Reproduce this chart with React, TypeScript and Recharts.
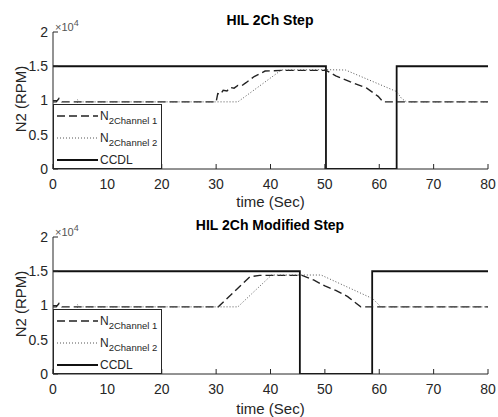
import { LineChart, Line, XAxis, YAxis, Legend } from "recharts";

const xTicks = [0, 10, 20, 30, 40, 50, 60, 70, 80];
const yTicks = [0, 5000, 10000, 15000, 20000];

// HIL 2Ch Step
const stepCh1Time = [0, 0.6, 1.1, 1.6, 30, 30.3, 30.8, 31.3, 32, 32.6, 33.3, 34, 34.7, 35.5, 37, 39, 42, 50.2, 52, 54.6, 57.7, 59.8, 60.7, 80];
const stepCh1Rpm = [9800, 9800, 10300, 9800, 9800, 11000, 10900, 11500, 11400, 11900, 11800, 12200, 12150, 12600, 13500, 14300, 14400, 14400, 13600, 12750, 11800, 10600, 9800, 9800];
const stepCh2Time = [0, 4.4, 4.5, 4.9, 34, 42, 50.2, 53.8, 63.2, 64.1, 65, 80];
const stepCh2Rpm = [0, 0, 10100, 9800, 9800, 14450, 14500, 14450, 11300, 10300, 9800, 9800];
const stepCcdlTime = [0, 50.2, 50.2, 63.2, 63.2, 80];
const stepCcdlRpm = [15000, 15000, 0, 0, 15000, 15000];

// HIL 2Ch Modified Step
const modCh1Time = [0, 0.6, 1.1, 1.6, 30.4, 36.2, 38, 45.8, 48, 50, 52, 54.2, 56.6, 80];
const modCh1Rpm = [9800, 9800, 10300, 9800, 9800, 14200, 14400, 14400, 13700, 12850, 12200, 11300, 9800, 9800];
const modCh2Time = [0, 4.4, 4.5, 4.9, 34, 40.2, 49.3, 58.8, 60.3, 80];
const modCh2Rpm = [0, 0, 10100, 9800, 9800, 14450, 14450, 11000, 9800, 9800];
const modCcdlTime = [0, 45.4, 45.4, 58.7, 58.7, 80];
const modCcdlRpm = [15000, 15000, 0, 0, 15000, 15000];

const zip = (t: number[], v: number[]) => t.map((x, i) => ({ t: x, v: v[i] }));

const INK = "#262626";
const FONT = "'Liberation Sans', Arial, sans-serif";

const legendRows = [
  { dash: "8 4", width: 1.4, color: "#222", name: "N", sub: "2Channel 1", y: 11 },
  { dash: "1 2", width: 1, color: "#555", name: "N", sub: "2Channel 2", y: 33 },
  { dash: undefined, width: 1.8, color: "#111", name: "CCDL", sub: "", y: 55 },
];

function LegendBox() {
  return (
    <div
      style={{
        position: "relative",
        width: 109,
        height: 65,
        background: "#fff",
        border: `1px solid ${INK}`,
        boxSizing: "border-box",
        fontFamily: FONT,
        color: INK,
      }}
    >
      {legendRows.map((r, i) => (
        <div key={i} style={{ position: "absolute", left: 0, top: r.y - 7, height: 14, display: "flex", alignItems: "center" }}>
          <svg width={46} height={6} style={{ flex: "none" }}>
            <line x1={3} y1={3} x2={44} y2={3} stroke={r.color} strokeWidth={r.width} strokeDasharray={r.dash} />
          </svg>
          <span style={{ fontSize: 12, lineHeight: "14px", whiteSpace: "nowrap", position: "relative" }}>
            {r.name}
            {r.sub && <span style={{ fontSize: 9.5, position: "relative", top: 4 }}>{r.sub}</span>}
          </span>
        </div>
      ))}
    </div>
  );
}

function Panel({
  title,
  ch1,
  ch2,
  ccdl,
  height,
  top,
}: {
  title: string;
  ch1: { t: number; v: number }[];
  ch2: { t: number; v: number }[];
  ccdl: { t: number; v: number }[];
  height: number;
  top: number;
}) {
  const plotH = 137;
  return (
    <div style={{ position: "relative", width: 498, height }}>
      <LineChart width={498} height={height} margin={{ top, right: 10, bottom: 0, left: 0 }}>
        <XAxis
          xAxisId="b"
          dataKey="t"
          type="number"
          domain={[0, 80]}
          ticks={xTicks}
          allowDataOverflow
          height={height - top - plotH}
          stroke={INK}
          tickSize={-5}
          tickMargin={15}
          tick={{ fill: INK, fontSize: 14, fontFamily: FONT }}
          label={{ value: "time (Sec)", position: "insideBottom", offset: 3, fill: INK, fontSize: 15, fontFamily: FONT }}
        />
        <XAxis
          xAxisId="t"
          orientation="top"
          dataKey="t"
          type="number"
          domain={[0, 80]}
          ticks={xTicks}
          allowDataOverflow
          height={0}
          stroke={INK}
          tickSize={-5}
          tick={false}
        />
        <YAxis
          yAxisId="l"
          type="number"
          domain={[0, 20000]}
          ticks={yTicks}
          allowDataOverflow
          width={53}
          stroke={INK}
          tickSize={-5}
          tickMargin={10}
          tickFormatter={(v: number) => String(v / 10000)}
          tick={{ fill: INK, fontSize: 14, fontFamily: FONT }}
        />
        <YAxis
          yAxisId="r"
          orientation="right"
          type="number"
          domain={[0, 20000]}
          ticks={yTicks}
          allowDataOverflow
          width={0}
          stroke={INK}
          tickSize={-5}
          tick={false}
        />
        <Legend
          layout="horizontal"
          verticalAlign="middle"
          align="center"
          content={() => <LegendBox />}
          wrapperStyle={{ left: 53, top: top + 72, width: 109, height: 65 }}
        />
        <Line
          xAxisId="b"
          yAxisId="l"
          data={ccdl}
          dataKey="v"
          type="linear"
          stroke="#111"
          strokeWidth={1.8}
          dot={false}
          isAnimationActive={false}
          name="CCDL"
        />
        <Line
          xAxisId="b"
          yAxisId="l"
          data={ch1}
          dataKey="v"
          type="linear"
          stroke="#222"
          strokeWidth={1.4}
          strokeDasharray="8 4"
          dot={false}
          isAnimationActive={false}
          name="N2Channel 1"
        />
        <Line
          xAxisId="b"
          yAxisId="l"
          data={ch2}
          dataKey="v"
          type="linear"
          stroke="#555"
          strokeWidth={1}
          strokeDasharray="1 2"
          dot={false}
          isAnimationActive={false}
          name="N2Channel 2"
        />
      </LineChart>
      <div
        style={{
          position: "absolute",
          left: 270,
          top: top - 12,
          transform: "translate(-50%, -50%)",
          fontFamily: FONT,
          fontWeight: "bold",
          fontSize: 14,
          color: "#000",
          whiteSpace: "nowrap",
        }}
      >
        {title}
      </div>
      <div style={{ position: "absolute", left: 55, top: top - 14, fontFamily: FONT, fontSize: 11, color: "#555", lineHeight: "11px" }}>
        ×10<sup style={{ fontSize: 9, verticalAlign: 5 }}>4</sup>
      </div>
      <div
        style={{
          position: "absolute",
          left: 20,
          top: top + plotH / 2 - 2,
          transform: "translate(-50%, -50%) rotate(-90deg)",
          fontFamily: FONT,
          fontSize: 15,
          color: INK,
          whiteSpace: "nowrap",
        }}
      >
        N2 (RPM)
      </div>
    </div>
  );
}

export default function App() {
  return (
    <div style={{ position: "absolute", left: 0, top: 0, width: 498, height: 417, background: "#fff" }}>
      <Panel title="HIL 2Ch Step" ch1={zip(stepCh1Time, stepCh1Rpm)} ch2={zip(stepCh2Time, stepCh2Rpm)} ccdl={zip(stepCcdlTime, stepCcdlRpm)} height={210} top={32} />
      <Panel title="HIL 2Ch Modified Step" ch1={zip(modCh1Time, modCh1Rpm)} ch2={zip(modCh2Time, modCh2Rpm)} ccdl={zip(modCcdlTime, modCcdlRpm)} height={207} top={27} />
    </div>
  );
}
